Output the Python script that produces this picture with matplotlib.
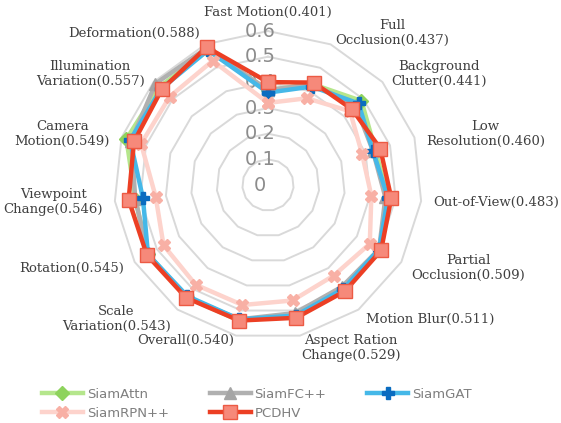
import numpy as np
import matplotlib.pyplot as plt
import matplotlib.transforms as mtransforms

# categories (clockwise from top), label value = PCDHV score
categories = ["Fast Motion(0.401)", "Full\nOcclusion(0.437)", "Background\nClutter(0.441)",
              "Low\nResolution(0.460)", "Out-of-View(0.483)", "Partial\nOcclusion(0.509)",
              "Motion Blur(0.511)", "Aspect Ration\nChange(0.529)", "Overall(0.540)",
              "Scale\nVariation(0.543)", "Rotation(0.545)", "Viewpoint\nChange(0.546)",
              "Camera\nMotion(0.549)", "Illumination\nVariation(0.557)", "Deformation(0.588)"]

siam_attn = [0.37, 0.43, 0.49, 0.44, 0.47, 0.51, 0.50, 0.52, 0.54, 0.54, 0.54, 0.52, 0.58, 0.57, 0.575]
siam_fcpp = [0.37, 0.43, 0.46, 0.43, 0.46, 0.50, 0.49, 0.51, 0.535, 0.54, 0.54, 0.52, 0.56, 0.59, 0.585]
siam_gat = [0.36, 0.42, 0.475, 0.43, 0.47, 0.50, 0.50, 0.52, 0.535, 0.535, 0.54, 0.49, 0.565, 0.56, 0.575]
siam_rpnpp = [0.32, 0.37, 0.43, 0.386, 0.405, 0.458, 0.436, 0.46, 0.478, 0.48, 0.47, 0.44, 0.52, 0.515, 0.53]
pcdhv = [0.401, 0.437, 0.441, 0.460, 0.483, 0.509, 0.511, 0.529, 0.540, 0.543, 0.545, 0.546, 0.549, 0.557, 0.588]

ticks = [0, 0.1, 0.2, 0.3, 0.4, 0.5, 0.6]

n = len(categories)
theta = np.arange(n) * 2 * np.pi / n
theta_c = np.append(theta, theta[0])

def closed(v):
    return np.append(v, v[0])

fig = plt.figure(figsize=(5.61, 4.23), dpi=100)
ax = fig.add_axes([0.2032, 0.1986, 0.549, 0.728], projection='polar')
ax.set_theta_zero_location('N')
ax.set_theta_direction(-1)
ax.set_ylim(0, 0.6)
ax.grid(False)
ax.spines['polar'].set_visible(False)
ax.set_xticks([])
ax.set_yticks([])
ax.patch.set_alpha(0)

# polygon grid
for t in ticks[1:]:
    ax.plot(theta_c, [t] * (n + 1), color='#d9d9d9', lw=1.4, zorder=1, clip_on=False)

# radial tick labels along the top axis
off = mtransforms.offset_copy(ax.transData, fig=fig, x=-8, y=0, units='dots')
for t in ticks:
    ax.text(0, t, f"{t:g}", transform=off, ha='center', va='center',
            fontsize=14, color='#8c8c8c', zorder=2)

series = [
    ("SiamAttn", siam_attn, dict(color='#b5e68c', marker='D', ms=7, mfc='#8ed35d', mec='#8ed35d')),
    ("SiamFC++", siam_fcpp, dict(color='#b0b0b0', marker='^', ms=9, mfc='#a5a5a5', mec='#a5a5a5')),
    ("SiamGAT", siam_gat, dict(color='#45b8e8', marker='P', ms=8, mfc='#0a6cc0', mec='#0a6cc0')),
    ("SiamRPN++", siam_rpnpp, dict(color='#fdd3cc', marker='X', ms=9, mfc='#f8b0a5', mec='#f8b0a5')),
    ("PCDHV", pcdhv, dict(color='#ec3f24', marker='s', ms=10, mfc='#f6897a', mec='#ec5a44')),
]
handles = {}
for z, (name, vals, st) in enumerate(series):
    h, = ax.plot(theta_c, closed(vals), lw=3.2, label=name, zorder=3 + z, clip_on=False, **st)
    handles[name] = h

# category labels
fig.canvas.draw()
for ang, lab in zip(theta, categories):
    x, y = ax.transData.transform((ang, 0.6))
    s, c = np.sin(ang), np.cos(ang)
    pad = 12
    if abs(s) < 0.1:
        ha, va = 'center', 'bottom' if c > 0 else 'top'
        px, py = x, y + c * pad
    elif abs(s) < 0.3 and c < 0:
        ha, va = ('left' if s > 0 else 'right'), 'top'
        px, py = x + s * pad * 0.5, y + 2
    else:
        ha = 'left' if s > 0 else 'right'
        va = 'center'
        px, py = x + s * pad, y + c * pad
    fx, fy = fig.transFigure.inverted().transform((px, py))
    fig.text(fx, fy, lab, ha=ha, va=va, multialignment='center',
             fontsize=9.5, family='DejaVu Serif', color='#404040')

order = ["SiamAttn", "SiamRPN++", "SiamFC++", "PCDHV", "SiamGAT"]
leg = fig.legend([handles[k] for k in order], order, ncol=3, loc='center',
                 bbox_to_anchor=(0.458, 0.045), frameon=False, fontsize=9.5,
                 handlelength=3.1, columnspacing=3.1, labelspacing=0.45,
                 handletextpad=0.3)
for t in leg.get_texts():
    t.set_color('#7f7f7f')

fig.savefig("out.png", dpi=100)
